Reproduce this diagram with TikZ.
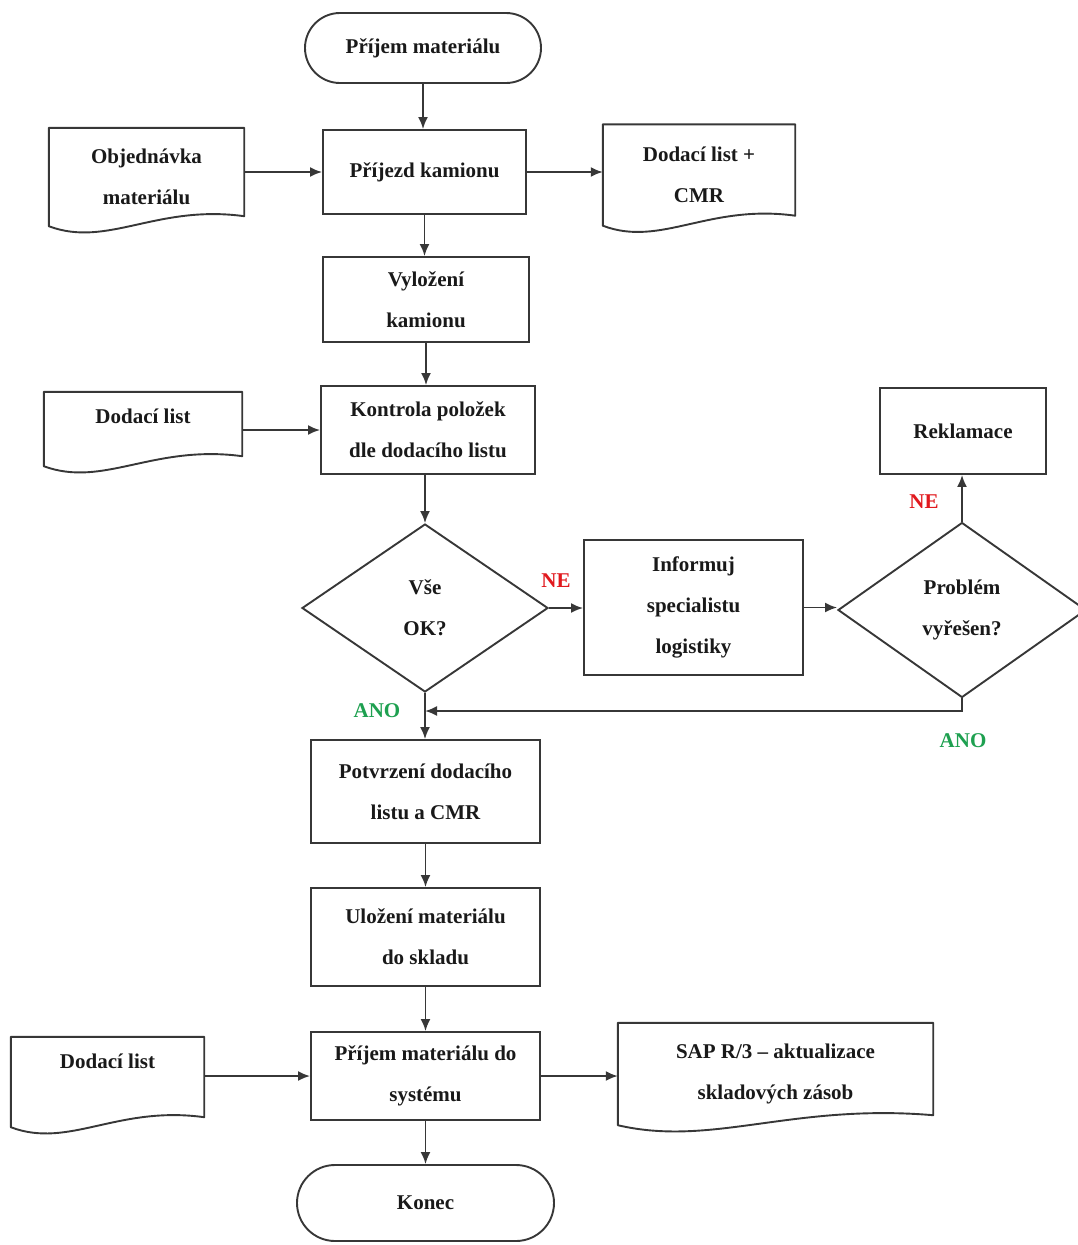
\documentclass[tikz,border=0pt]{standalone}
\usepackage{fontspec}
\setmainfont{Liberation Serif}
\usetikzlibrary{shapes.geometric,calc,arrows.meta}
\definecolor{lncol}{RGB}{55,55,55}
\definecolor{nered}{RGB}{225,25,30}
\definecolor{anogreen}{RGB}{30,160,80}
\tikzset{
  every node/.style={font=\fontsize{21}{41}\selectfont\bfseries, text=black!90},
  procbox/.style={draw=lncol, line width=1.9pt, rectangle, align=center, inner sep=0pt},
  docbox/.style={rectangle, align=center, inner sep=0pt},
  termbox/.style={draw=lncol, line width=1.9pt, rectangle, rounded corners=35pt, align=center, inner sep=0pt},
  decbox/.style={draw=lncol, line width=1.9pt, diamond, align=center, inner sep=0pt},
  arr/.style={draw=lncol, line width=1.9pt, -{Latex[length=12pt,width=10pt]}},
  docline/.style={draw=lncol, line width=1.9pt, line join=round},
  nelab/.style={text=nered},
  anolab/.style={text=anogreen}
}
\newcommand\docshape[1]{%
  \path[docline] (#1.north west) -- (#1.north east) -- ($(#1.south east)+(0,-10)$)
    .. controls ($(#1.south west)!0.55!(#1.south east)+(0,-22)$) and ($(#1.south west)!0.3!(#1.south east)+(0,22)$) .. (#1.south west) -- cycle;}
\begin{document}
\begin{tikzpicture}[x=1pt,y=-1pt]
\useasboundingbox (0,0) rectangle (1078,1245);
\clip (0,0) rectangle (1078,1245);
% main column
\node[termbox, minimum width=236pt, minimum height=70pt] (start) at (423,48) {Příjem materiálu};
\node[procbox, minimum width=203pt, minimum height=84pt] (prij) at (424.5,172) {Příjezd kamionu};
\node[procbox, minimum width=206pt, minimum height=85pt] (vyl) at (426,299.5) {Vyložení\\kamionu};
\node[procbox, minimum width=214pt, minimum height=88pt] (kon) at (428,430) {Kontrola položek\\dle dodacího listu};
\node[decbox, minimum width=246pt, minimum height=168pt] (vse) at (425,608) {Vše\\OK?};
\node[procbox, minimum width=219pt, minimum height=135pt] (inf) at (693.5,607.5) {Informuj\\specialistu\\logistiky};
\node[decbox, minimum width=248pt, minimum height=175pt] (prob) at (962,610) {Problém\\vyřešen?};
\node[procbox, minimum width=166pt, minimum height=86pt] (rek) at (963,431) {Reklamace};
\node[procbox, minimum width=229pt, minimum height=103pt] (pot) at (425.5,791.5) {Potvrzení dodacího\\listu a CMR};
\node[procbox, minimum width=229pt, minimum height=98pt] (ulo) at (425.5,937) {Uložení materiálu\\do skladu};
\node[procbox, minimum width=229pt, minimum height=88pt] (sys) at (425.5,1076) {Příjem materiálu do\\systému};
\node[termbox, rounded corners=38pt, minimum width=257pt, minimum height=76pt] (konec) at (425.5,1203) {Konec};
% documents
\node[docbox, minimum width=195pt, minimum height=98pt] (obj) at (146.5,177) {Objednávka\\materiálu};
\docshape{obj}
\node[docbox, minimum width=192pt, minimum height=101pt] (cmr) at (699,175) {Dodací list +\\CMR};
\docshape{cmr}
\node[docbox, minimum width=198pt, minimum height=74pt, text depth=25pt] (dl1) at (143,429) {Dodací list};
\docshape{dl1}
\node[docbox, minimum width=193pt, minimum height=90pt, text depth=41pt] (dl2) at (107.5,1082) {Dodací list};
\docshape{dl2}
\node[docbox, minimum width=315pt, minimum height=102pt] (sap) at (775.5,1074) {SAP R/3 – aktualizace\\skladových zásob};
\docshape{sap}
% junction
\coordinate (j) at (425,711);
% connectors
\draw[arr] (start.south) -- (start.south |- prij.north);
\draw[arr] (obj.east |- prij.west) -- (prij.west);
\draw[arr] (prij.east) -- (prij.east -| cmr.west);
\draw[arr] (prij.south) -- (prij.south |- vyl.north);
\draw[arr] (vyl.south) -- (vyl.south |- kon.north);
\draw[arr] (dl1.east |- kon.west) -- (kon.west);
\draw[arr] (kon.south -| vse.north) -- (vse.north);
\draw[arr] (vse.east) -- (vse.east -| inf.west);
\draw[arr] (inf.east) -- (inf.east -| prob.west);
\draw[arr] (prob.north) -- (prob.north |- rek.south);
\draw[arr] (prob.south) |- (j);
\draw[arr] (vse.south) -- (vse.south |- pot.north);
\draw[arr] (pot.south) -- (pot.south |- ulo.north);
\draw[arr] (ulo.south) -- (ulo.south |- sys.north);
\draw[arr] (dl2.east |- sys.west) -- (sys.west);
\draw[arr] (sys.east) -- (sys.east -| sap.west);
\draw[arr] (sys.south) -- (sys.south |- konec.north);
% labels
\node[nelab] (ne1) at (556,581) {NE};
\node[anolab] (ano1) at (377,711) {ANO};
\node[nelab] (ne2) at (924,502) {NE};
\node[anolab] (ano2) at (963,741) {ANO};
\end{tikzpicture}
\end{document}
